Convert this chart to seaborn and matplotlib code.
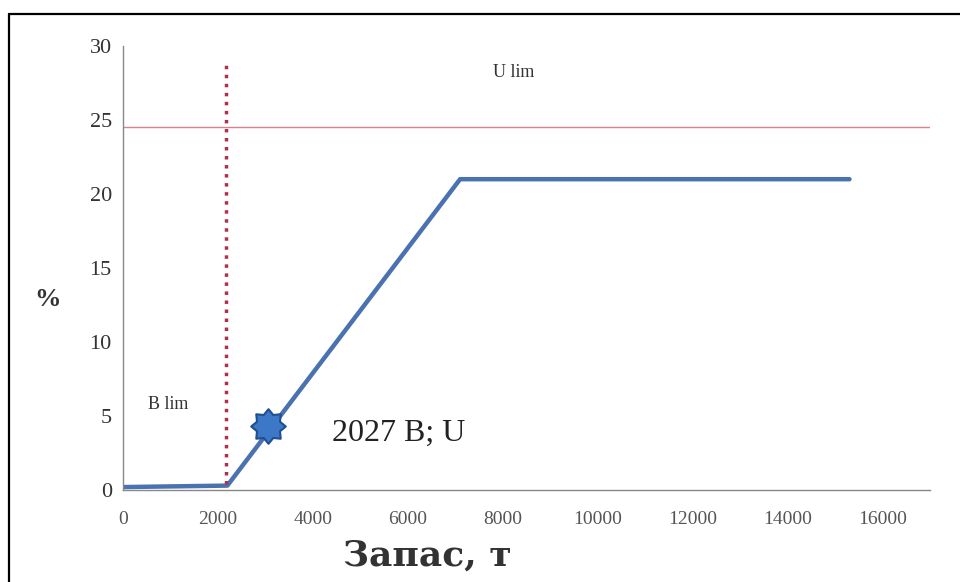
import numpy as np
import pandas as pd
import matplotlib
matplotlib.use("Agg")
import matplotlib.pyplot as plt
import matplotlib.lines as mlines
from matplotlib.path import Path
import seaborn as sns

# data
stock = [0, 2200, 7100, 15300]
rate = [0.2, 0.3, 21.0, 21.0]
b_lim = 2180
u_lim = 24.5
point_x = [3050]
point_y = [4.3]
x_ticks = [0, 2000, 4000, 6000, 8000, 10000, 12000, 14000, 16000]
y_ticks = [0, 5, 10, 15, 20, 25, 30]

df = pd.DataFrame({"stock": stock, "rate": rate})

sns.set_style("white")
plt.rcParams["font.family"] = ["Liberation Serif", "DejaVu Serif"]

fig = plt.figure(figsize=(9.6, 5.82), dpi=100)
ax = fig.add_axes([0.128, 0.158, 0.841, 0.763])

sns.lineplot(data=df, x="stock", y="rate", ax=ax, color="#4a72b0", lw=3.2)

#limits
ax.axhline(u_lim, color="#d9828f", lw=1)
ax.plot([b_lim, b_lim], [0.4, 29], color="#b0304a", lw=2.5, ls=(0, (1, 1.6)))

# sun-like 8 point star
ang = np.arange(17) * np.pi / 8
rad = np.where(np.arange(17) % 2 == 0, 1.0, 0.72)
verts = np.column_stack([rad * np.sin(ang), rad * np.cos(ang)])
codes = [Path.MOVETO] + [Path.LINETO] * 15 + [Path.CLOSEPOLY]
sun = Path(verts, codes)
ax.scatter(point_x, point_y, marker=sun, s=620, color="#3d78c8",
           edgecolor="#1f4f8f", linewidth=1.5, zorder=5)

ax.text(4400, 3.8, "2027 B; U", fontsize=23, va="center", color="#222222")
ax.text(520, 5.8, "B lim", fontsize=13, va="center", color="#333333")
ax.text(7800, 28.2, "U lim", fontsize=13, va="center", color="#333333")

ax.set_xlim(0, 17000)
ax.set_ylim(0, 30)
ax.set_xticks(x_ticks)
ax.set_yticks(y_ticks)
ax.tick_params(axis="x", labelsize=14, colors="#555555", length=2, pad=13)
ax.tick_params(axis="y", labelsize=16, colors="#333333", length=4, pad=4)

sns.despine(ax=ax)
for s in ["left", "bottom"]:
    ax.spines[s].set_color("#888888")
    ax.spines[s].set_linewidth(1)

ax.set_xlabel("Запас, т", fontsize=26, fontweight="bold", color="#333333",
              family=["DejaVu Serif"], va="center")
ax.xaxis.set_label_coords(0.377, -0.148)
ax.set_ylabel("%", fontsize=19, fontweight="bold", color="#333333",
              rotation=0, va="center")
ax.yaxis.set_label_coords(-0.093, 0.43)

# frame lines on the left and top
fig.add_artist(mlines.Line2D([9/960, 9/960], [0, 1 - 14/582], color="black", lw=1.6))
fig.add_artist(mlines.Line2D([9/960, 1], [1 - 14/582, 1 - 14/582], color="black", lw=1.6))

fig.savefig("out.png", dpi=100)
